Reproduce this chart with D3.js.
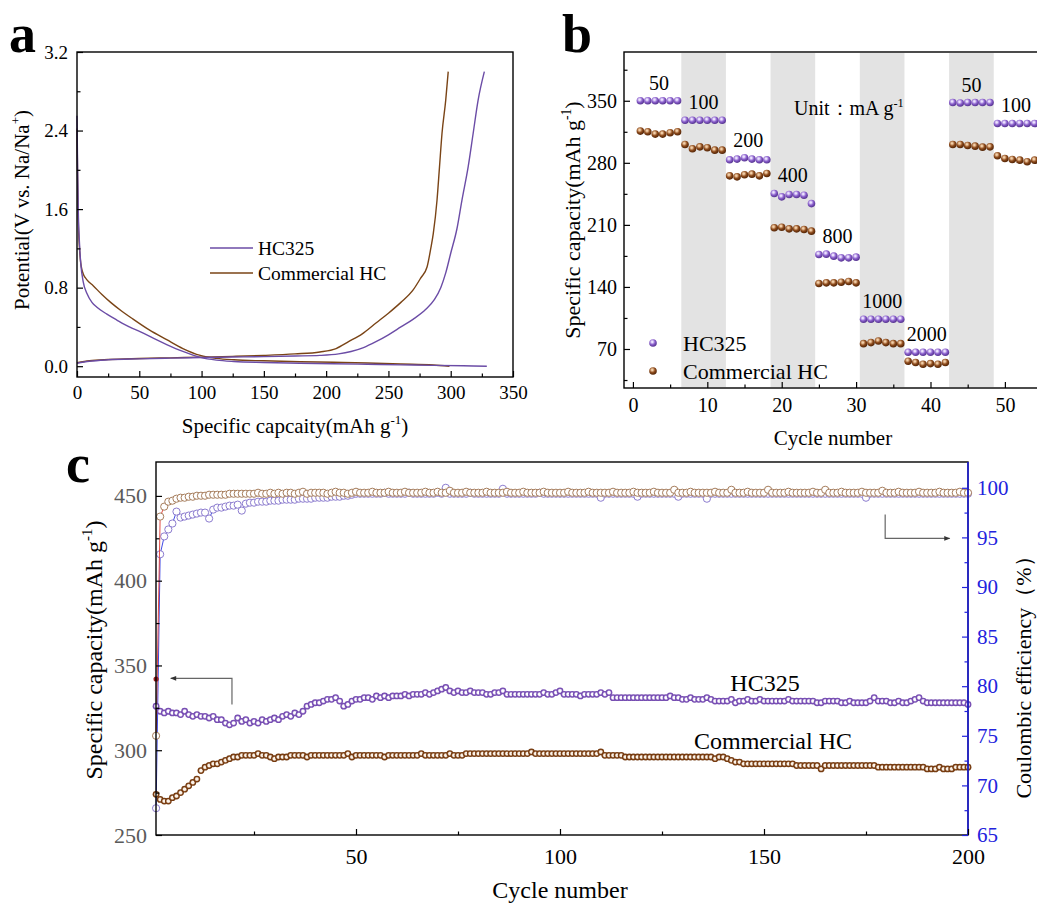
<!DOCTYPE html>
<html>
<head>
<meta charset="utf-8">
<script src="https://d3js.org/d3.v7.min.js"></script>
<style>
  body { margin:0; background:#fff; }
  svg { font-family: 'Liberation Serif','Times New Roman',serif; }
</style>
</head>
<body>
<svg id="fig" width="1037" height="906"></svg>
<script>
// ---------- data ----------
// panel a: galvanostatic profiles, [capacity mAh/g, potential V]
var hcDischarge = [[0,2.55],[0.5,2.0],[1,1.6],[2,1.25],[3,1.05],[5,0.86],[8,0.74],[12,0.65],[16,0.6],[24,0.53],[32,0.47],[42,0.4],[51,0.35],[62,0.28],[72,0.22],[85,0.15],[99,0.09],[112,0.062],[126,0.048],[150,0.038],[179,0.03],[206,0.025],[233,0.02],[260,0.014],[286,0.008],[310,0.004],[329,0.0]];
var comDischarge = [[0,2.42],[0.5,1.9],[1,1.5],[2,1.2],[3,1.05],[4,0.98],[5,0.94],[8,0.88],[13,0.82],[20,0.73],[27,0.65],[36,0.56],[45,0.48],[58,0.37],[72,0.27],[85,0.18],[99,0.11],[112,0.08],[126,0.065],[150,0.055],[179,0.046],[206,0.04],[233,0.032],[260,0.022],[286,0.012],[299,0.0]];
var hcCharge = [[0,0.03],[10,0.05],[25,0.065],[50,0.075],[75,0.082],[100,0.088],[125,0.093],[150,0.098],[175,0.104],[195,0.11],[210,0.125],[220,0.15],[230,0.19],[240,0.25],[250,0.32],[260,0.4],[270,0.48],[280,0.58],[287,0.68],[292,0.8],[296,0.95],[300,1.15],[305,1.4],[309,1.69],[314,2.03],[318,2.37],[322,2.71],[327,3.0]];
var comCharge = [[0,0.035],[10,0.055],[25,0.068],[50,0.078],[75,0.085],[100,0.092],[125,0.1],[150,0.11],[175,0.125],[195,0.145],[208,0.18],[218,0.25],[229,0.33],[240,0.44],[250,0.54],[260,0.65],[270,0.78],[276,0.9],[281,1.01],[284,1.2],[286,1.35],[289,1.69],[291,2.03],[293,2.37],[296,2.71],[298,3.0]];

// panel b: rate capability, cycles 1..54
var rateLabels = ["50","100","200","400","800","1000","2000","50","100"];
var rateHC = [350,350,350,350,350,350, 328,328,328,328,328,328, 283.4,284.2,285.7,284.2,283.4,283.4,
  245.4,241.6,244.3,244.3,243.5,234, 176.6,177,174.7,172.8,172.8,173.6, 103.6,103.6,103.6,103.6,103.6,103.6,
  66.3,66.3,66.3,66.3,66.3,66.3, 348,347.5,348,348,348,348, 324.4,324.4,324.4,324.4,324.4,324.4];
var rateCom = [315.8,315,312.4,312.4,313.9,315, 300.7,295.8,298,297,294.3,294.3, 265.3,264.2,266.5,267.2,265.3,268,
  206.7,207.4,205.5,205.5,204.8,202.9, 143.8,144.6,144.6,145.3,146.1,144.6, 76,77.2,79,77.2,76,76,
  56.2,54.7,52.8,53.5,52.8,54.7, 300.7,300.7,299.6,298.8,297.7,298, 287.9,284.9,283.8,283,281.2,283];

// panel c: cycling, cycles 1..200
var capHC = [326,323,322,323,322,322,321,323,321,320, 321,320,320,319,320,318,318,316,315,316,
  319,317,318,316,317,316,318,317,318,319, 318,320,321,320,322,321,323,326,327,328,
  328,329,330,330,331,329,326,327,329,330, 330,331,331,330,332,331,332,331,332,332,
  332,333,332,333,333,333,334,333,334,335, 336,337,335,334,335,334,334,335,334,334,
  334,333,333,334,334,335,333,333,333,333, 333,333,333,333,333,334,333,333,334,335,
  333,333,333,333,332,333,333,333,333,334, 333,334,331,331,331,331,331,331,331,331,
  331,331,331,331,331,331,332,331,331,330, 330,331,330,330,330,331,330,329,329,329,
  329,330,328,329,329,330,329,329,330,329, 329,329,329,329,329,330,329,329,329,329,
  329,329,328,328,329,329,329,329,328,328, 329,328,328,328,328,329,331,329,329,329,
  328,328,329,328,328,329,330,331,329,328, 328,328,328,328,328,328,328,328,328,327];
var capCom = [274,271,270,270,272,273,275,277,279,281, 283,288,290,291,292,292,293,294,295,296,
  296,297,297,297,297,298,297,297,296,295, 296,296,296,297,297,297,297,296,297,297,
  297,297,297,297,297,297,297,298,296,297, 297,297,297,297,297,297,296,297,297,297,
  297,297,297,297,297,298,297,297,297,297, 297,297,298,297,297,297,298,298,298,298,
  298,298,298,298,298,298,298,298,298,298, 298,298,299,298,298,298,298,298,298,298,
  298,298,298,298,298,298,298,298,298,299, 297,297,297,297,297,296,296,296,296,296,
  296,296,296,296,296,296,296,296,296,296, 296,296,296,296,296,296,296,295,296,296,
  295,294,293,293,292,292,292,292,292,292, 292,292,292,292,292,292,292,291,291,291,
  291,291,291,289,291,291,291,291,291,291, 291,291,291,291,291,291,291,290,290,290,
  290,290,290,290,290,290,290,290,290,289, 289,289,290,289,289,289,290,290,290,290];
var ceCom = [75.0,97.1,98.1,98.6,98.7,98.9,99.0,99.0,99.1,99.1, 99.2,99.2,99.2,99.3,99.3,99.3,99.3,99.3,99.4,99.4,
  99.4,99.4,99.4,99.4,99.4,99.5,99.4,99.4,99.5,99.4, 99.5,99.4,99.5,99.5,99.4,99.5,99.6,99.4,99.5,99.5,
  99.5,99.5,99.4,99.5,99.6,99.5,99.5,99.4,99.5,99.6, 99.5,99.5,99.5,99.6,99.5,99.5,99.5,99.6,99.5,99.5,
  99.5,99.6,99.5,99.5,99.5,99.5,99.6,99.5,99.5,99.6, 99.5,99.5,99.7,99.5,99.5,99.5,99.6,99.5,99.5,99.5,
  99.5,99.6,99.5,99.5,99.5,99.5,99.6,99.5,99.5,99.5, 99.6,99.5,99.5,99.5,99.5,99.6,99.5,99.5,99.5,99.5,
  99.5,99.6,99.5,99.5,99.5,99.5,99.6,99.5,99.5,99.5, 99.5,99.5,99.6,99.5,99.5,99.5,99.5,99.6,99.5,99.5,
  99.5,99.5,99.6,99.5,99.5,99.5,99.5,99.8,99.5,99.5, 99.5,99.6,99.5,99.5,99.5,99.5,99.5,99.6,99.5,99.5,
  99.5,99.8,99.5,99.5,99.5,99.6,99.5,99.5,99.5,99.5, 99.8,99.5,99.5,99.5,99.5,99.6,99.5,99.5,99.5,99.5,
  99.5,99.6,99.5,99.5,99.8,99.5,99.5,99.5,99.6,99.5, 99.5,99.5,99.5,99.6,99.5,99.5,99.5,99.5,99.7,99.5,
  99.5,99.5,99.6,99.5,99.5,99.5,99.5,99.6,99.5,99.5, 99.5,99.5,99.6,99.5,99.5,99.5,99.5,99.6,99.5,99.5];
var ceHC = [67.7,93.3,95.1,95.8,96.4,97.6,97.0,97.1,97.2,97.3, 97.4,97.5,97.5,96.9,97.8,98.0,98.0,98.1,98.2,98.2,
  98.3,97.7,98.4,98.5,98.5,98.6,98.6,98.6,98.7,98.7, 98.7,98.8,98.8,98.8,98.8,98.9,98.9,98.9,98.9,99.0,
  99.0,99.0,99.0,99.1,99.1,99.1,99.2,99.2,99.3,99.4, 99.4,99.4,99.4,99.4,99.4,99.4,99.5,99.4,99.4,99.4,
  99.4,99.4,99.5,99.4,99.4,99.4,99.4,99.4,99.4,99.5, 99.4,100.0,99.4,99.4,99.4,99.4,99.4,99.5,99.4,99.4,
  99.4,99.4,99.4,99.4,99.4,99.9,99.4,99.4,99.4,99.4, 99.4,99.4,99.4,99.4,99.5,99.4,99.4,99.4,99.4,99.4,
  99.4,99.4,99.4,99.4,99.4,99.4,99.4,99.4,99.4,99.0, 99.4,99.4,99.4,99.4,99.4,99.4,99.4,99.4,99.1,99.4,
  99.4,99.4,99.4,99.4,99.4,99.4,99.4,99.4,99.1,99.4, 99.4,99.4,99.4,99.4,99.4,98.9,99.4,99.4,99.4,99.4,
  99.4,99.4,99.4,99.4,99.4,99.4,99.4,99.4,99.4,99.4, 99.4,99.4,99.4,99.4,99.4,99.4,99.4,99.4,99.4,99.4,
  99.4,99.4,99.4,99.4,99.4,99.4,99.4,99.4,99.4,99.4, 99.4,99.4,99.4,99.4,99.0,99.4,99.4,99.4,99.4,99.4,
  99.4,99.4,99.4,99.4,99.4,99.4,99.4,99.4,99.4,99.4, 99.4,99.4,99.4,99.4,99.4,99.4,99.4,99.4,99.4,99.4];
var comFirstCap = 342;   // dark red first-cycle point

// ---------- helpers ----------
var PURPLE = "#6b4ca6", BROWN = "#7a4416";
var svg = d3.select("#fig");
svg.append("rect").attr("width",1037).attr("height",906).attr("fill","#fff");

function axis(gen, pos, vals, size, fmt, pad, fs, color) {
  var s = svg.append("g").attr("transform", pos)
    .call(gen.tickValues(vals).tickSizeInner(-size).tickSizeOuter(0).tickPadding(pad)
      .tickFormat(fmt || function(){ return ""; }));
  s.select(".domain").remove();
  s.attr("font-family", null).attr("font-size", fs).attr("color", color || "#000");
  s.selectAll("line").attr("stroke-width", 1.2);
  return s;
}
function rich(t, parts, fs) {
  var up = false;
  parts.forEach(function(p){
    var sp = t.append("tspan").text(p[0]);
    if (p[1]) { sp.attr("font-size", fs*0.62); if (!up) sp.attr("dy", -fs*0.42); up = true; }
    else if (up) { sp.attr("dy", fs*0.42); up = false; }
  });
  return t;
}
function frame(x0, y0, x1, y1) {
  svg.append("rect").attr("x",x0).attr("y",y0).attr("width",x1-x0).attr("height",y1-y0)
    .attr("fill","none").attr("stroke","#000").attr("stroke-width",1.4);
}
function sphere(id, c0, c1, c2, hl) {
  var g = svg.append("defs").append("radialGradient").attr("id", id)
    .attr("cx", hl ? 0.5 : 0.4).attr("cy", hl ? 0.5 : 0.35).attr("r", 0.6);
  g.append("stop").attr("offset", 0).attr("stop-color", c0);
  g.append("stop").attr("offset", hl ? 0.3 : 0.15).attr("stop-color", c0);
  g.append("stop").attr("offset", 0.6).attr("stop-color", c1);
  g.append("stop").attr("offset", 1).attr("stop-color", c2);
}
sphere("bP", "#ece2ff", "#8a5fcc", "#5d3a98");
sphere("bB", "#f3cfa8", "#8e4b1c", "#5a2a0a");
sphere("cP", "#ffffff", "#7c52b8", "#6840a4", true);
sphere("cB", "#fbf3ea", "#7d3f12", "#66320b", true);

// ---------- panel a ----------
var xA = d3.scaleLinear().domain([0,350]).range([77,513]);
var yA = d3.scaleLinear().domain([-0.11,3.2]).range([377,52]);
var lineA = d3.line().x(function(d){ return xA(d[0]); }).y(function(d){ return yA(d[1]); }).curve(d3.curveMonotoneX);
[[comCharge,BROWN],[comDischarge,BROWN],[hcCharge,PURPLE],[hcDischarge,PURPLE]].forEach(function(s){
  svg.append("path").datum(s[0]).attr("fill","none").attr("stroke",s[1]).attr("stroke-width",1.4).attr("d",lineA);
});
frame(77,52,513,377);
axis(d3.axisBottom(xA), "translate(0,377)", d3.range(0,351,50), 6, d3.format("d"), 9, 19);
axis(d3.axisBottom(xA), "translate(0,377)", d3.range(25,351,50), 3.5);
axis(d3.axisLeft(yA), "translate(77,0)", [0,0.8,1.6,2.4,3.2], 6, d3.format(".1f"), 9, 19);
axis(d3.axisLeft(yA), "translate(77,0)", [0.4,1.2,2.0,2.8], 3.5);
rich(svg.append("text").attr("x",295).attr("y",433).attr("text-anchor","middle").attr("font-size",21),
  [["Specific capcaity(mAh g"],["-1",1],[")"]], 21);
rich(svg.append("text").attr("transform","translate(29,210) rotate(-90)").attr("text-anchor","middle").attr("font-size",21),
  [["Potential(V vs. Na/Na"],["+",1],[")"]], 21);
// legend a
[["HC325",PURPLE,248],["Commercial HC",BROWN,273]].forEach(function(l){
  svg.append("line").attr("x1",210).attr("x2",253).attr("y1",l[2]).attr("y2",l[2]).attr("stroke",l[1]).attr("stroke-width",1.4);
  svg.append("text").attr("x",258).attr("y",l[2]+6.5).attr("font-size",19.5).text(l[0]);
});
svg.append("text").attr("x",9).attr("y",52).attr("font-size",54).attr("font-weight","bold").text("a");

// ---------- panel b ----------
var xB = d3.scaleLinear().domain([-1.2,55.5]).range([624,1045.8]);
var yB = d3.scaleLinear().domain([26,405]).range([388,52]);
svg.append("defs").append("clipPath").attr("id","clipB").append("rect")
  .attr("x",624).attr("y",52).attr("width",413).attr("height",336);
var gB = svg.append("g").attr("clip-path","url(#clipB)");
[6.5,18.5,30.5,42.5].forEach(function(s){
  gB.append("rect").attr("x",xB(s)).attr("y",53).attr("width",xB(s+6)-xB(s)).attr("height",334).attr("fill","#e3e3e3");
});
gB.selectAll(".pc").data(rateCom).enter().append("circle")
  .attr("cx",function(d,i){ return xB(i+1); }).attr("cy",function(d){ return yB(d); })
  .attr("r",3.8).attr("fill","url(#bB)");
gB.selectAll(".ph").data(rateHC).enter().append("circle")
  .attr("cx",function(d,i){ return xB(i+1); }).attr("cy",function(d){ return yB(d); })
  .attr("r",3.8).attr("fill","url(#bP)");
frame(624,52,1050,388);
axis(d3.axisBottom(xB), "translate(0,388)", d3.range(0,51,10), 6, d3.format("d"), 10, 20);
axis(d3.axisBottom(xB), "translate(0,388)", d3.range(5,56,10), 3.5);
axis(d3.axisLeft(yB), "translate(624,0)", [70,140,210,280,350], 6, d3.format("d"), 7, 20);
axis(d3.axisLeft(yB), "translate(624,0)", [35,105,175,245,315,385], 3.5);
rateLabels.forEach(function(t,i){
  var grp = rateHC.slice(i*6, i*6+6);
  svg.append("text").attr("x",xB(i*6+3.5)).attr("y",yB(d3.max(grp))-11)
    .attr("text-anchor","middle").attr("font-size",20).text(t);
});
rich(svg.append("text").attr("x",794).attr("y",115).attr("font-size",20), [["Unit："],["mA g"],["-1",1]], 20);
[["HC325","url(#bP)",343],["Commercial HC","url(#bB)",371]].forEach(function(l){
  svg.append("circle").attr("cx",653).attr("cy",l[2]).attr("r",3.8).attr("fill",l[1]);
  svg.append("text").attr("x",683).attr("y",l[2]+7.5).attr("font-size",22).text(l[0]);
});
svg.append("text").attr("x",833).attr("y",445).attr("text-anchor","middle").attr("font-size",21).text("Cycle number");
rich(svg.append("text").attr("transform","translate(580,220) rotate(-90)").attr("text-anchor","middle").attr("font-size",22),
  [["Specific capacity(mAh g"],["-1",1],[")"]], 22);
svg.append("text").attr("x",562).attr("y",52).attr("font-size",54).attr("font-weight","bold").text("b");

// ---------- panel c ----------
var xC = d3.scaleLinear().domain([0,200]).range([152,968]);
var yC = d3.scaleLinear().domain([250,470]).range([835,462]);
var yCE = d3.scaleLinear().domain([65,102.6]).range([835,462]);
var cyc = function(d,i){ return xC(i+1); };
var lineCE = d3.line().x(cyc).y(function(d){ return yCE(d); });
// coulombic efficiency: line + white-filled open circles per series
[[ceHC,"#2a36e0","#8c7ccf"],[ceCom,"#e0352e","#a67d5c"]].forEach(function(s){
  svg.append("path").datum(s[0]).attr("fill","none").attr("stroke",s[1]).attr("stroke-width",0.9).attr("d",lineCE);
  svg.append("g").selectAll("circle").data(s[0]).enter().append("circle")
    .attr("cx",cyc).attr("cy",function(d){ return yCE(d); })
    .attr("r",3.6).attr("fill","#fff").attr("stroke",s[2]).attr("stroke-width",1);
});
svg.selectAll(".chc").data(capHC).enter().append("circle").attr("cx",cyc).attr("cy",function(d){ return yC(d); })
  .attr("r",3.4).attr("fill","url(#cP)");
svg.selectAll(".ccm").data(capCom).enter().append("circle").attr("cx",cyc).attr("cy",function(d){ return yC(d); })
  .attr("r",3.4).attr("fill","url(#cB)");
svg.append("circle").attr("cx",xC(1)).attr("cy",yC(comFirstCap)).attr("r",2.6).attr("fill","#9a1f1f");

frame(156,462,968,835);
svg.append("line").attr("x1",968).attr("x2",968).attr("y1",462).attr("y2",835).attr("stroke","#2222dd").attr("stroke-width",1.6);
axis(d3.axisBottom(xC), "translate(0,835)", [50,100,150,200], 6, d3.format("d"), 13, 22);
axis(d3.axisBottom(xC), "translate(0,835)", [25,75,125,175], 3.5);
axis(d3.axisLeft(yC), "translate(156,0)", [250,300,350,400,450], 6, d3.format("d"), 9, 22)
  .selectAll("text").attr("fill","#5a5a5a");
axis(d3.axisLeft(yC), "translate(156,0)", [275,325,375,425], 3.5);
axis(d3.axisRight(yCE), "translate(968,0)", d3.range(65,101,5), 6, d3.format("d"), 9, 21, "#2222dd");
axis(d3.axisRight(yCE), "translate(968,0)", [67.5,72.5,77.5,82.5,87.5,92.5,97.5], 3.5, null, 0, 0, "#2222dd");

// arrows pointing to their axes
svg.append("defs").append("marker").attr("id","arr").attr("viewBox","0 0 10 10").attr("refX",9).attr("refY",5)
  .attr("markerWidth",7).attr("markerHeight",5).attr("orient","auto")
  .append("path").attr("d","M0,1L10,5L0,9Z").attr("fill","#333");
svg.append("path").attr("d","M"+xC(19.6)+","+yC(327)+"V"+yC(342.4)+"H"+xC(4.6))
  .attr("fill","none").attr("stroke","#666").attr("stroke-width",1.2).attr("marker-end","url(#arr)");
svg.append("path").attr("d","M"+xC(179.7)+","+yCE(97.3)+"V"+yCE(94.9)+"H"+xC(195.5))
  .attr("fill","none").attr("stroke","#666").attr("stroke-width",1.2).attr("marker-end","url(#arr)");

svg.append("text").attr("x",765).attr("y",691).attr("text-anchor","middle").attr("font-size",24).text("HC325");
svg.append("text").attr("x",773).attr("y",749).attr("text-anchor","middle").attr("font-size",24).text("Commercial HC");
svg.append("text").attr("x",560).attr("y",898).attr("text-anchor","middle").attr("font-size",24).text("Cycle number");
rich(svg.append("text").attr("transform","translate(102,650) rotate(-90)").attr("text-anchor","middle").attr("font-size",24),
  [["Specific capacity(mAh g"],["-1",1],[")"]], 24);
svg.append("text").attr("transform","translate(1031,672) rotate(-90)").attr("text-anchor","middle").attr("font-size",22)
  .text("Coulombic efficiency（%）");
svg.append("text").attr("x",66).attr("y",482).attr("font-size",54).attr("font-weight","bold").text("c");
</script>
</body>
</html>
